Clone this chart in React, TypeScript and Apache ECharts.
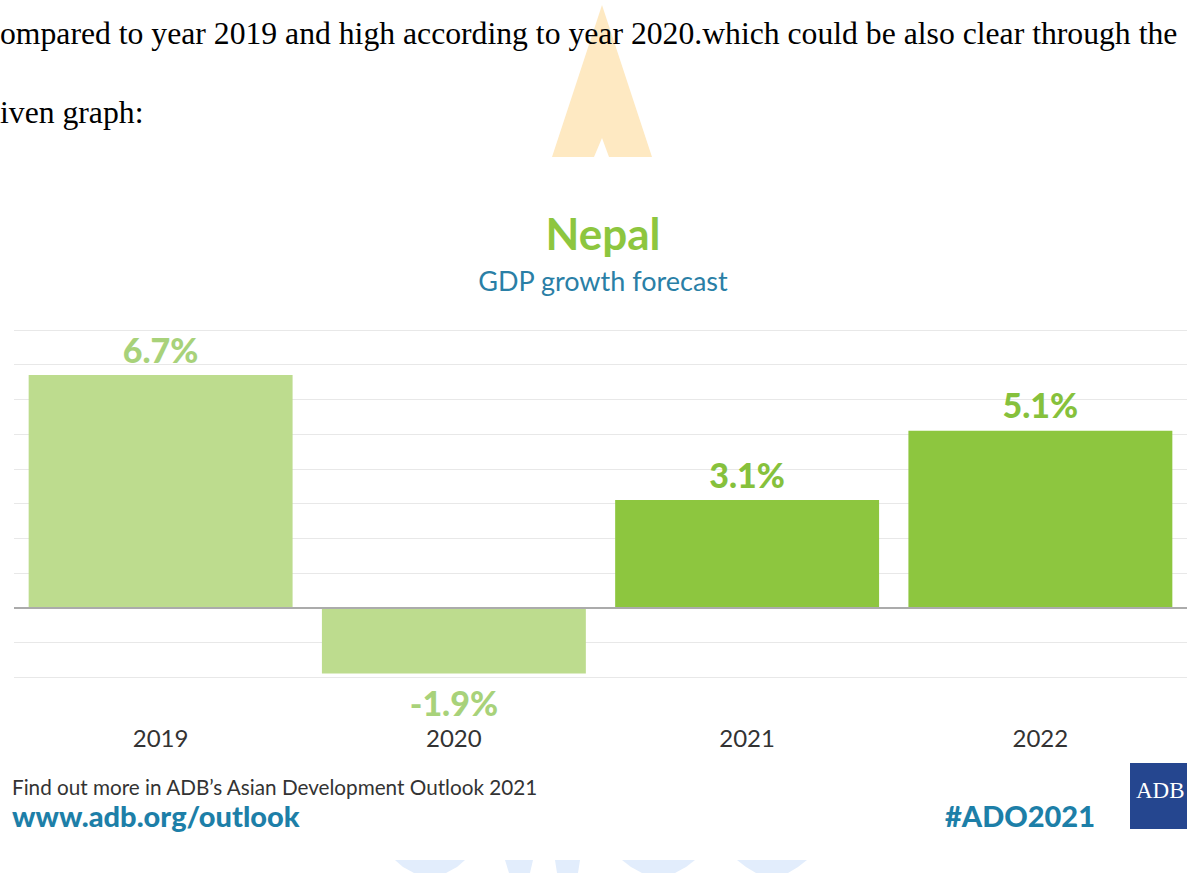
import React, { useEffect, useRef } from "react";
import * as echarts from "echarts";

const categories = ["2019", "2020", "2021", "2022"];
const growth = [6.7, -1.9, 3.1, 5.1];
const isForecast = [false, false, true, true];
const yMin = -2;
const yMax = 8;
const yInterval = 1;

const lightBar = "#bddc8e";
const darkBar = "#8dc63f";
const lightLabel = "#a8d27a";
const darkLabel = "#86c13c";

export default function App() {
  const ref = useRef<HTMLDivElement>(null);

  useEffect(() => {
    if (!ref.current) return;
    const chart = echarts.init(ref.current, undefined, { renderer: "svg" });

    const data = growth.map((v, i) => ({
      value: v,
      itemStyle: { color: isForecast[i] ? darkBar : lightBar },
      label: {
        show: true,
        position: v >= 0 ? "top" : "bottom",
        distance: v >= 0 ? 9 : 12,
        color: isForecast[i] ? darkLabel : lightLabel,
      },
    }));

    const option: any = {
      animation: false,
      backgroundColor: "#ffffff",
      grid: { left: 14, width: 1176, top: 330, height: 347, containLabel: false },
      xAxis: {
        type: "category",
        data: categories,
        axisLine: { show: false },
        axisTick: { show: false },
        axisLabel: {
          margin: 48,
          fontSize: 24,
          color: "#333333",
          fontFamily: "Lato",
        },
        splitLine: { show: false },
      },
      yAxis: {
        type: "value",
        min: yMin,
        max: yMax,
        interval: yInterval,
        axisLabel: { show: false },
        axisLine: { show: false },
        axisTick: { show: false },
        splitLine: { lineStyle: { color: "#e8e8e8", width: 1 } },
      },
      series: [
        {
          type: "bar",
          data,
          barCategoryGap: "10%",
          label: {
            show: true,
            fontFamily: "Lato",
            fontWeight: 900,
            fontSize: 34,
            formatter: (p: any) => `${p.value}%`,
          },
          markLine: {
            silent: true,
            symbol: ["none", "none"],
            label: { show: false },
            lineStyle: { color: "#ababab", width: 2, type: "solid" },
            data: [{ yAxis: 0 }],
          },
        },
      ],
      graphic: [
        {
          type: "polygon",
          z: 1,
          shape: {
            points: [
              [602, 5],
              [652, 157],
              [609, 157],
              [602, 138],
              [594, 157],
              [552, 157],
            ],
          },
          style: { fill: "#fee9c2" },
        },
        {
          type: "polygon",
          z: 1,
          shape: { points: [[395, 860], [465, 860], [457, 867], [446, 873], [414, 873], [403, 867]] },
          style: { fill: "#e2edfc" },
        },
        {
          type: "polygon",
          z: 1,
          shape: { points: [[505, 860], [533, 860], [530, 873], [509, 873]] },
          style: { fill: "#e2edfc" },
        },
        {
          type: "polygon",
          z: 1,
          shape: { points: [[555, 860], [580, 860], [578, 873], [557, 873]] },
          style: { fill: "#e2edfc" },
        },
        {
          type: "polygon",
          z: 1,
          shape: { points: [[622, 860], [695, 860], [686, 867], [675, 873], [642, 873], [631, 867]] },
          style: { fill: "#e2edfc" },
        },
        {
          type: "polygon",
          z: 1,
          shape: { points: [[737, 860], [807, 860], [798, 867], [788, 873], [756, 873], [746, 867]] },
          style: { fill: "#e2edfc" },
        },
        {
          type: "text",
          z: 10,
          x: 0,
          y: 33,
          style: {
            text: "ompared to year 2019 and high according to year 2020.which could be also clear through the",
            font: "31.7px 'Liberation Serif'",
            fill: "#000000",
            textAlign: "left",
            textVerticalAlign: "middle",
          },
        },
        {
          type: "text",
          z: 10,
          x: 0,
          y: 112,
          style: {
            text: "iven graph:",
            font: "31.7px 'Liberation Serif'",
            fill: "#000000",
            textAlign: "left",
            textVerticalAlign: "middle",
          },
        },
        {
          type: "text",
          z: 10,
          x: 603,
          y: 233,
          style: {
            text: "Nepal",
            font: "bold 44px Lato",
            fill: "#8dc63f",
            textAlign: "center",
            textVerticalAlign: "middle",
          },
        },
        {
          type: "text",
          z: 10,
          x: 603,
          y: 280,
          style: {
            text: "GDP growth forecast",
            font: "27px Lato",
            fill: "#2a7fa6",
            textAlign: "center",
            textVerticalAlign: "middle",
          },
        },
        {
          type: "text",
          z: 10,
          x: 12,
          y: 787,
          style: {
            text: "Find out more in ADB\u2019s Asian Development Outlook 2021",
            font: "20.7px Lato",
            fill: "#333333",
            textAlign: "left",
            textVerticalAlign: "middle",
          },
        },
        {
          type: "text",
          z: 10,
          x: 12,
          y: 815,
          style: {
            text: "www.adb.org/outlook",
            font: "900 29px Lato",
            fill: "#1d7fa8",
            textAlign: "left",
            textVerticalAlign: "middle",
          },
        },
        {
          type: "text",
          z: 10,
          x: 1095,
          y: 815,
          style: {
            text: "#ADO2021",
            font: "900 29px Lato",
            fill: "#1d7fa8",
            textAlign: "right",
            textVerticalAlign: "middle",
          },
        },
        {
          type: "rect",
          z: 10,
          shape: { x: 1130, y: 763, width: 60, height: 66 },
          style: { fill: "#25468f" },
        },
        {
          type: "text",
          z: 11,
          x: 1136,
          y: 790,
          style: {
            text: "ADB",
            font: "23px 'Liberation Serif'",
            fill: "#ffffff",
            textAlign: "left",
            textVerticalAlign: "middle",
          },
        },
      ],
    };

    chart.setOption(option);
    return () => chart.dispose();
  }, []);

  return (
    <div
      ref={ref}
      style={{ position: "absolute", left: 0, top: 0, width: 1187, height: 873 }}
    />
  );
}
